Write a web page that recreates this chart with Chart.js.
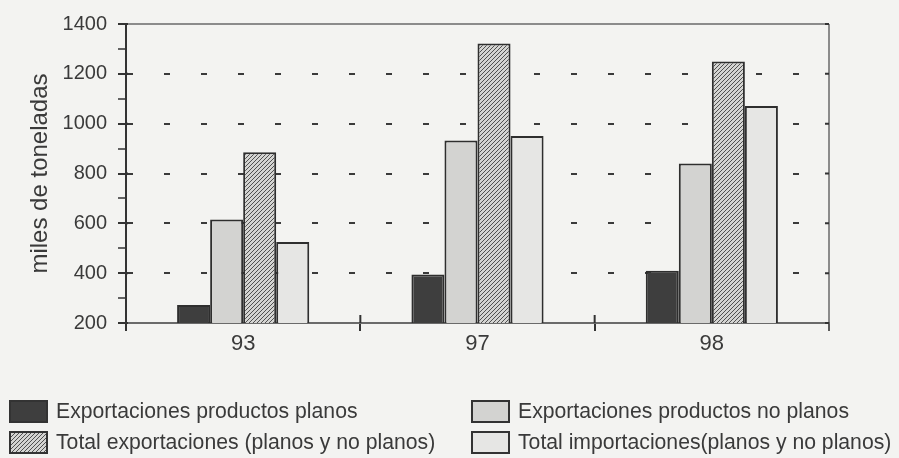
<!DOCTYPE html>
<html>
<head>
<meta charset="utf-8">
<script src="https://cdn.jsdelivr.net/npm/chart.js@4"></script>
<style>
html, body { margin: 0; padding: 0; background: #f3f3f1; }
#wrap { position: relative; width: 899px; height: 458px; }
</style>
</head>
<body>
<div id="wrap"><canvas id="chart" width="899" height="458"></canvas></div>
<script>
// datos (miles de toneladas)
const years = ['93', '97', '98'];
const planos = [272, 395, 410];
const noPlanos = [615, 932, 840];
const totalExport = [885, 1322, 1249];
const totalImport = [525, 951, 1071];
const yMajor = [200, 400, 600, 800, 1000, 1200, 1400];

const FONT = '"Liberation Sans", Arial, Helvetica, sans-serif';
const INK = '#3a3a3a';

// trama rayada para "Total exportaciones"
function hatch() {
  const s = 4;
  const c = document.createElement('canvas');
  c.width = s; c.height = s;
  const g = c.getContext('2d');
  g.fillStyle = '#d4d4d2';
  g.fillRect(0, 0, s, s);
  g.strokeStyle = '#505050';
  g.lineWidth = 1;
  g.beginPath();
  g.moveTo(0, s); g.lineTo(s, 0);
  g.moveTo(-1, 1); g.lineTo(1, -1);
  g.moveTo(s - 1, s + 1); g.lineTo(s + 1, s - 1);
  g.stroke();
  return g.createPattern(c, 'repeat');
}

// marco superior / derecho y marcas de la escala
const framePlugin = {
  id: 'frame',
  beforeDatasetsDraw(chart) {
    const { ctx, chartArea: a, scales: { x, y } } = chart;
    ctx.save();
    ctx.strokeStyle = '#6a6a6a';
    ctx.lineWidth = 1.5;
    ctx.beginPath();
    ctx.moveTo(a.left, a.top); ctx.lineTo(a.right, a.top);
    ctx.moveTo(a.right, a.top); ctx.lineTo(a.right, a.bottom + 8);
    ctx.stroke();
    ctx.strokeStyle = '#333';
    ctx.lineWidth = 2;
    ctx.beginPath();
    yMajor.forEach(v => {
      const py = y.getPixelForValue(v);
      ctx.moveTo(a.right - 4, py); ctx.lineTo(a.right, py);
      ctx.moveTo(a.left, py); ctx.lineTo(a.left + 2, py);
    });
    for (let i = 1; i < years.length; i++) {
      const px = (x.getPixelForValue(i - 1) + x.getPixelForValue(i)) / 2;
      ctx.moveTo(px, a.bottom - 8); ctx.lineTo(px, a.bottom);
    }
    ctx.stroke();
    ctx.restore();
  }
};

// leyenda en dos columnas
const legendPlugin = {
  id: 'legendBoxes',
  afterDraw(chart) {
    const ctx = chart.ctx;
    const cols = [10, 472];
    const rows = [401, 432];
    chart.data.datasets.forEach((ds, i) => {
      const bx = cols[i % 2];
      const by = rows[Math.floor(i / 2)];
      ctx.save();
      ctx.fillStyle = ds.backgroundColor;
      ctx.fillRect(bx, by, 37, 21);
      ctx.strokeStyle = '#333';
      ctx.lineWidth = 2;
      ctx.strokeRect(bx, by, 37, 21);
      ctx.fillStyle = INK;
      ctx.font = '21.2px ' + FONT;
      ctx.textBaseline = 'middle';
      ctx.fillText(ds.label, bx + 46, by + 11);
      ctx.restore();
    });
  }
};

const barStyle = { borderColor: '#2e2e2e', borderWidth: 2, borderSkipped: 'bottom' };

new Chart(document.getElementById('chart'), {
  type: 'bar',
  data: {
    labels: years,
    datasets: [
      { label: 'Exportaciones productos planos', data: planos, backgroundColor: '#3e3e3e', ...barStyle },
      { label: 'Exportaciones productos no planos', data: noPlanos, backgroundColor: '#d3d3d1', ...barStyle },
      { label: 'Total exportaciones (planos y no planos)', data: totalExport, backgroundColor: hatch(), ...barStyle },
      { label: 'Total importaciones(planos y no planos)', data: totalImport, backgroundColor: '#e6e6e4', ...barStyle }
    ]
  },
  options: {
    responsive: false,
    devicePixelRatio: 1,
    animation: false,
    layout: { padding: { left: 0, right: 70, top: 24, bottom: 0 } },
    datasets: { bar: { barPercentage: 1, categoryPercentage: 0.564 } },
    plugins: { legend: { display: false }, tooltip: { enabled: false } },
    scales: {
      x: {
        afterFit: s => { s.height = 135; },
        grid: { drawOnChartArea: false, color: '#333', tickLength: 8, lineWidth: 2 },
        border: { color: '#6a6a6a', width: 2 },
        ticks: { color: INK, font: { family: FONT, size: 22 }, padding: 0 }
      },
      y: {
        min: 200,
        max: 1400,
        afterFit: s => { s.width = 126; },
        afterBuildTicks: s => {
          s.ticks = [];
          for (let v = 200; v <= 1400; v += 100) s.ticks.push({ value: v });
        },
        grid: {
          color: c => (c.tick && c.tick.value % 200 === 0 && c.tick.value > 200 && c.tick.value < 1400) ? '#3a3a3a' : 'rgba(0,0,0,0)',
          lineWidth: 2,
          tickLength: 8,
          tickColor: '#333',
          tickWidth: c => (c.tick && c.tick.value % 200 === 0) ? 2 : 1.5
        },
        border: { color: '#333', width: 2, dash: [6, 31] },
        ticks: {
          autoSkip: false,
          color: INK,
          font: { family: FONT, size: 20 },
          padding: 11,
          callback: v => (yMajor.includes(v) ? v : '')
        },
        title: {
          display: true,
          text: 'miles de toneladas',
          color: INK,
          font: { family: FONT, size: 24 },
          padding: { top: 26, bottom: 0 }
        }
      }
    }
  },
  plugins: [framePlugin, legendPlugin]
});
</script>
</body>
</html>
